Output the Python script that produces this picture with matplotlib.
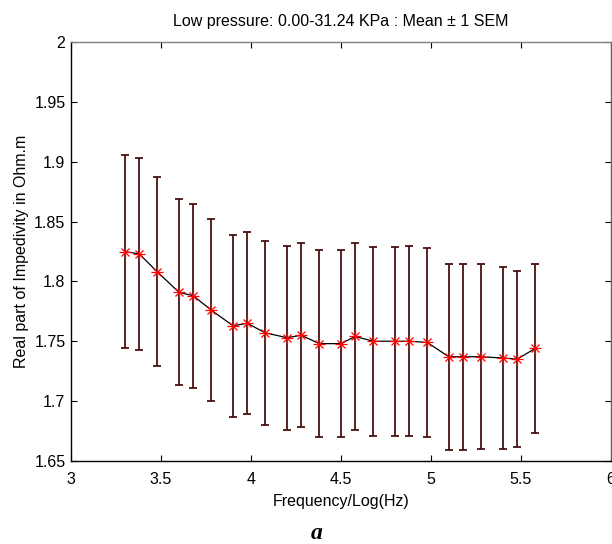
import matplotlib
matplotlib.use("Agg")
import matplotlib.pyplot as plt

plt.rcParams.update({
    'font.family': ['Liberation Sans', 'DejaVu Sans'],
    'font.size': 11.5,
})

# log10 of frequency (Hz)
freq_log = [3.30, 3.38, 3.48, 3.60, 3.68, 3.78, 3.90, 3.98, 4.08, 4.20, 4.28, 4.38,
            4.50, 4.58, 4.68, 4.80, 4.88, 4.98, 5.10, 5.18, 5.28, 5.40, 5.48, 5.58]
# mean real part of impedivity (Ohm.m)
mean_vals = [1.825, 1.823, 1.808, 1.791, 1.788, 1.776, 1.763, 1.765, 1.757, 1.753, 1.755, 1.748,
             1.748, 1.754, 1.750, 1.750, 1.750, 1.749, 1.737, 1.737, 1.737, 1.736, 1.735, 1.744]
# 1 SEM
sem_vals = [0.081, 0.080, 0.079, 0.078, 0.077, 0.076, 0.076, 0.076, 0.077, 0.077, 0.077, 0.078,
            0.078, 0.0785, 0.079, 0.079, 0.0795, 0.079, 0.078, 0.078, 0.0775, 0.076, 0.0735, 0.0705]

fig = plt.figure(figsize=(6.12, 5.44), dpi=100)
ax = fig.add_axes([0.116, 0.153, 0.882, 0.769])

ax.errorbar(freq_log, mean_vals, yerr=sem_vals, fmt='none', ecolor='#4a1212',
            elinewidth=1.3, capsize=3, capthick=1.3, zorder=2)
ax.plot(freq_log, mean_vals, '-', color='black', lw=0.9, zorder=3)
# MATLAB-style asterisk: plus and cross overlaid
ax.plot(freq_log, mean_vals, '+', color='red', markersize=8, markeredgewidth=0.9,
        linestyle='none', zorder=4)
ax.plot(freq_log, mean_vals, 'x', color='red', markersize=6, markeredgewidth=0.9,
        linestyle='none', zorder=4)

ax.set_xlim(3, 6)
ax.set_ylim(1.65, 2.0)
ax.set_xticks([3, 3.5, 4, 4.5, 5, 5.5, 6])
ax.set_xticklabels(['3', '3.5', '4', '4.5', '5', '5.5', '6'])
ax.set_yticks([1.65, 1.7, 1.75, 1.8, 1.85, 1.9, 1.95, 2.0])
ax.set_yticklabels(['1.65', '1.7', '1.75', '1.8', '1.85', '1.9', '1.95', '2'])
ax.tick_params(direction='in', length=4, width=0.8, top=True, right=True)
ax.tick_params(axis='x', pad=8)
ax.tick_params(axis='y', pad=4)

ax.spines['top'].set_color('#808080')
ax.spines['right'].set_color('#606060')
for s in ax.spines.values():
    s.set_linewidth(1.0)

ax.set_xlabel('Frequency/Log(Hz)', labelpad=5)
ax.set_ylabel('Real part of Impedivity in Ohm.m', labelpad=4)
ax.set_title('Low pressure: 0.00-31.24 KPa : Mean \u00b1 1 SEM', fontsize=11.5, pad=12)

fig.text(0.517, 0.0, 'a', ha='center', va='bottom', fontsize=17,
         family=['Liberation Serif', 'DejaVu Serif'], fontweight='bold', fontstyle='italic')

fig.savefig('out.png', dpi=100)
